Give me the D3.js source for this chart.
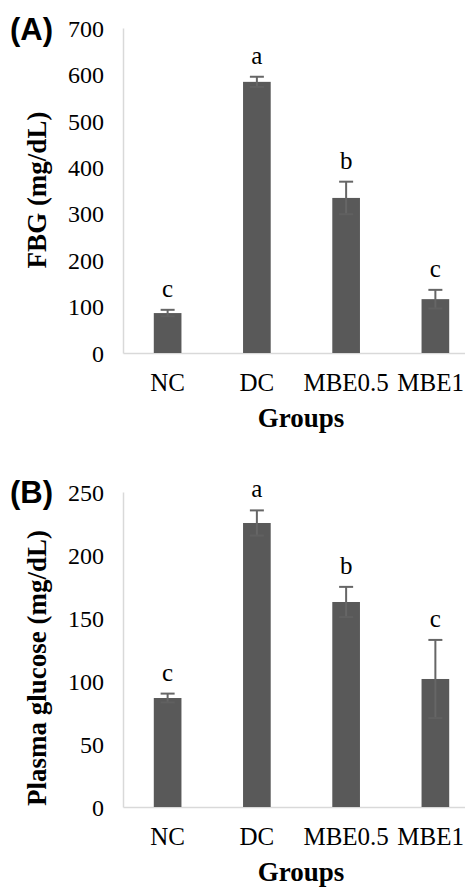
<!DOCTYPE html>
<html><head><meta charset="utf-8">
<script src="https://cdn.jsdelivr.net/npm/d3@7"></script>
<style>
html,body{margin:0;padding:0;background:#fff;}
svg{display:block;}
</style></head>
<body>
<svg id="chart" width="465" height="888"></svg>
<script>
const categories = ["NC", "DC", "MBE0.5", "MBE1"];

const fbgMeans = [86, 584, 334, 116];
const fbgErrors = [7, 11, 35, 20];
const fbgLetters = ["c", "a", "b", "c"];
const fbgTicks = [0, 100, 200, 300, 400, 500, 600, 700];

const plasmaMeans = [86.5, 225.4, 162.7, 101.6];
const plasmaErrors = [3.5, 10, 12, 31];
const plasmaLetters = ["c", "a", "b", "c"];
const plasmaTicks = [0, 50, 100, 150, 200, 250];

const svg = d3.select("#chart");
const W = 465;
const serif = "'Liberation Serif','Times New Roman',serif";
const barColor = "#595959";
const errColor = "#666666";
const axisColor = "#d9d9d9";

function panel(cfg) {
  const g = svg.append("g");
  const x = d3.scaleBand().domain(categories).range([123, 480]).paddingInner(0.69).paddingOuter(0.345);
  const y = d3.scaleLinear().domain([0, cfg.max]).range([cfg.bottom, cfg.top]);

  // y axis
  const ya = g.append("g").attr("transform", "translate(123,0)")
    .call(d3.axisLeft(y).tickValues(cfg.ticks).tickSize(0).tickSizeOuter(0).tickPadding(19));
  ya.select(".domain").attr("stroke", axisColor).attr("stroke-width", 1.5);
  ya.selectAll("text").attr("font-family", serif).attr("font-size", 24).attr("fill", "#000").attr("dy", "0.34em");

  // x axis
  const xa = g.append("g").attr("transform", `translate(0,${cfg.bottom})`)
    .call(d3.axisBottom(x).tickSize(0).tickSizeOuter(0).tickPadding(20));
  xa.select(".domain").attr("stroke", axisColor).attr("stroke-width", 1.5);
  xa.selectAll("text").attr("font-family", serif).attr("font-size", 25).attr("fill", "#000");
  // keep labels inside the picture (as the original chart does)
  xa.selectAll(".tick").each(function() {
    const t = d3.select(this);
    const txt = t.select("text").node();
    const m = this.transform.baseVal.consolidate().matrix.e;
    const half = txt.getComputedTextLength() / 2;
    const over = m + half - (W - 1);
    if (over > 0) t.select("text").attr("x", -over);
  });

  const data = categories.map((c, i) => ({c, v: cfg.means[i], e: cfg.errs[i], l: cfg.letters[i]}));

  // bars
  g.selectAll("rect.bar").data(data).enter().append("rect")
    .attr("class", "bar")
    .attr("x", d => x(d.c)).attr("width", x.bandwidth())
    .attr("y", d => y(d.v)).attr("height", d => y(0) - y(d.v))
    .attr("fill", barColor);

  // error bars
  const cx = d => x(d.c) + x.bandwidth() / 2;
  const eb = g.selectAll("g.err").data(data).enter().append("g").attr("class", "err")
    .attr("stroke", errColor).attr("stroke-width", 2);
  eb.append("line").attr("x1", cx).attr("x2", cx).attr("y1", d => y(d.v - d.e)).attr("y2", d => y(d.v + d.e));
  eb.append("line").attr("x1", d => cx(d) - 7).attr("x2", d => cx(d) + 7).attr("y1", d => y(d.v + d.e)).attr("y2", d => y(d.v + d.e));
  eb.append("line").attr("x1", d => cx(d) - 7).attr("x2", d => cx(d) + 7).attr("y1", d => y(d.v - d.e)).attr("y2", d => y(d.v - d.e)).attr("stroke", "#606060");

  // letters
  g.selectAll("text.letter").data(data).enter().append("text")
    .attr("class", "letter")
    .attr("x", cx).attr("y", d => y(d.v + d.e) - 13)
    .attr("text-anchor", "middle")
    .attr("font-family", serif).attr("font-size", 25).attr("fill", "#000")
    .text(d => d.l);

  // y title
  g.append("text")
    .attr("transform", `translate(46,${cfg.titleY}) rotate(-90)`)
    .attr("text-anchor", "middle")
    .attr("font-family", serif).attr("font-size", 27).attr("font-weight", "bold").attr("fill", "#000")
    .text(cfg.yTitle);

  // x title
  g.append("text")
    .attr("x", 301).attr("y", cfg.bottom + 74)
    .attr("text-anchor", "middle")
    .attr("font-family", serif).attr("font-size", 27).attr("font-weight", "bold").attr("fill", "#000")
    .text("Groups");

  // panel label
  g.append("text")
    .attr("x", 10).attr("y", cfg.labelY)
    .attr("font-family", "'Liberation Sans',Arial,sans-serif").attr("font-size", 31).attr("font-weight", "bold").attr("fill", "#000")
    .text(cfg.label);
}

panel({means: fbgMeans, errs: fbgErrors, letters: fbgLetters, ticks: fbgTicks, max: 700,
  top: 28, bottom: 353, yTitle: "FBG (mg/dL)", titleY: 190, label: "(A)", labelY: 40});
panel({means: plasmaMeans, errs: plasmaErrors, letters: plasmaLetters, ticks: plasmaTicks, max: 250,
  top: 492, bottom: 807, yTitle: "Plasma glucose (mg/dL)", titleY: 668, label: "(B)", labelY: 503});
</script>
</body></html>
